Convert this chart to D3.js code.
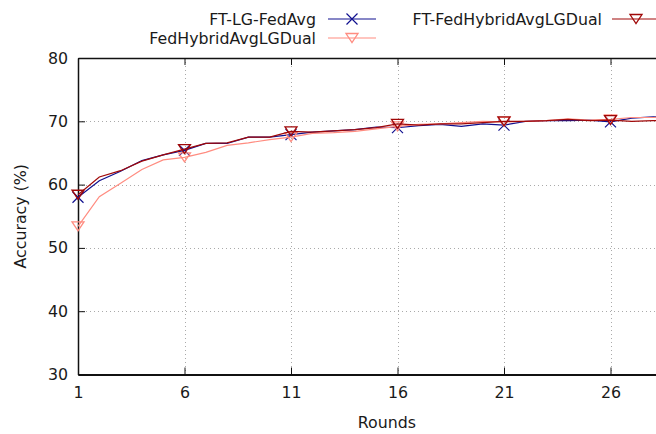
<!DOCTYPE html>
<html>
<head>
<meta charset="utf-8">
<script src="https://cdn.jsdelivr.net/npm/d3@7"></script>
<style>
  html, body { margin: 0; padding: 0; background: #fff; }
  svg { display: block; font-family: "DejaVu Sans", sans-serif; }
</style>
</head>
<body>
<svg id="chart" width="656" height="434"></svg>
<script>
// Accuracy per training round for the three methods
const rounds = d3.range(1, 31);
const ftLgFedAvg = [58.0, 60.6, 62.1, 63.8, 64.7, 65.4, 66.5, 66.5, 67.5, 67.5,
                    67.9, 68.3, 68.5, 68.7, 69.1, 69.0, 69.3, 69.5, 69.2, 69.6,
                    69.4, 70.0, 70.1, 70.1, 70.2, 69.9, 70.5, 70.7, 70.8, 70.9];
const fedHybridAvgLGDual = [53.4, 58.1, 60.2, 62.4, 63.9, 64.3, 65.1, 66.2, 66.6, 67.1,
                            67.5, 68.1, 68.2, 68.4, 68.8, 69.2, 69.5, 69.6, 69.8, 70.0,
                            69.9, 70.0, 70.1, 70.4, 70.2, 70.3, 70.6, 70.6, 70.7, 70.8];
const ftFedHybridAvgLGDual = [58.4, 61.2, 62.2, 63.7, 64.7, 65.6, 66.5, 66.6, 67.5, 67.5,
                              68.4, 68.3, 68.5, 68.7, 69.0, 69.6, 69.4, 69.6, 69.6, 69.8,
                              70.0, 70.0, 70.1, 70.3, 70.1, 70.2, 70.0, 70.1, 70.2, 70.3];
const xTicks = [1, 6, 11, 16, 21, 26];
const yTicks = [30, 40, 50, 60, 70, 80];
const markerRounds = [1, 6, 11, 16, 21, 26];

const series = [
  { name: "FT-LG-FedAvg", values: ftLgFedAvg, color: "#10108f", marker: "cross" },
  { name: "FedHybridAvgLGDual", values: fedHybridAvgLGDual, color: "#ff8c80", marker: "tri" },
  { name: "FT-FedHybridAvgLGDual", values: ftFedHybridAvgLGDual, color: "#a00808", marker: "tri" }
];

const svg = d3.select("#chart");
const plotLeft = 78, plotTop = 58, plotBottom = 374.5;
const plotRight = plotLeft + 29 * 21.3;

const x = d3.scaleLinear().domain([1, 30]).range([plotLeft, plotRight]);
const y = d3.scaleLinear().domain([30, 80]).range([plotBottom, plotTop]);

const fontSize = 15.8;
const textColor = "#1a1a1a";

// dotted grid
const grid = svg.append("g").attr("stroke", "#aaa").attr("stroke-width", 1)
  .attr("stroke-dasharray", "1,3");
yTicks.filter(v => v > 30 && v < 80).forEach(v => {
  grid.append("line").attr("x1", plotLeft).attr("x2", plotRight)
    .attr("y1", Math.round(y(v)) + 0.5).attr("y2", Math.round(y(v)) + 0.5);
});
xTicks.filter(v => v > 1).forEach(v => {
  grid.append("line").attr("y1", plotTop).attr("y2", plotBottom)
    .attr("x1", Math.round(x(v)) + 0.5).attr("x2", Math.round(x(v)) + 0.5);
});

// axes with inward ticks
const xAxis = d3.axisBottom(x).tickValues(xTicks).tickSize(-7).tickPadding(12).tickSizeOuter(0);
const gx = svg.append("g").attr("transform", `translate(0,${plotBottom})`).call(xAxis);
const xTop = d3.axisTop(x).tickValues(xTicks).tickSize(-7).tickFormat("").tickSizeOuter(0);
const gxt = svg.append("g").attr("transform", `translate(0,${plotTop})`).call(xTop);
const yAxis = d3.axisLeft(y).tickValues(yTicks).tickSize(-7).tickPadding(10).tickSizeOuter(0);
const gy = svg.append("g").attr("transform", `translate(${plotLeft},0)`).call(yAxis);

[gx, gxt, gy].forEach(g => {
  g.select(".domain").attr("stroke", "#111").attr("stroke-width", 1.5);
  g.selectAll(".tick line").attr("stroke", "#111").attr("stroke-width", 1);
  g.selectAll("text").attr("font-size", fontSize).attr("fill", textColor)
    .attr("font-family", "DejaVu Sans, sans-serif");
});
gx.select(".domain").attr("stroke-width", 2);

// axis titles
svg.append("text").attr("x", (plotLeft + plotRight) / 2).attr("y", 428)
  .attr("text-anchor", "middle").attr("font-size", fontSize).attr("fill", textColor)
  .text("Rounds");
svg.append("text").attr("transform", `translate(26,${(plotTop + plotBottom) / 2}) rotate(-90)`)
  .attr("text-anchor", "middle").attr("font-size", fontSize).attr("fill", textColor)
  .text("Accuracy (%)");

function drawMarker(g, kind, cx, cy, color) {
  if (kind === "cross") {
    const s = 5.5;
    g.append("path").attr("d", `M${cx - s},${cy - s}L${cx + s},${cy + s}M${cx - s},${cy + s}L${cx + s},${cy - s}`)
      .attr("stroke", color).attr("stroke-width", 1.2).attr("fill", "none");
  } else {
    const w = 6, h = 4.5;
    g.append("path").attr("d", `M${cx - w},${cy - h}L${cx + w},${cy - h}L${cx},${cy + h}Z`)
      .attr("stroke", color).attr("stroke-width", 1.3).attr("fill", "none");
  }
}

const line = d3.line().x((d, i) => x(rounds[i])).y(d => y(d));
const plot = svg.append("g");
series.forEach(s => {
  plot.append("path").datum(s.values).attr("d", line)
    .attr("fill", "none").attr("stroke", s.color).attr("stroke-width", 1.2);
  markerRounds.forEach(r => {
    drawMarker(plot, s.marker, x(r), y(s.values[r - 1]), s.color);
  });
});

// legend (two columns, filled top-to-bottom)
const legendCols = [
  { textRight: 316, sample: 328 },
  { textRight: 602, sample: 612 }
];
const legendRows = [19, 38];
const legendPos = [[0, 0], [0, 1], [1, 0]];
series.forEach((s, i) => {
  const [c, r] = legendPos[i];
  const col = legendCols[c], yy = legendRows[r];
  svg.append("text").attr("x", col.textRight).attr("y", yy)
    .attr("dy", "0.35em").attr("text-anchor", "end")
    .attr("font-size", fontSize).attr("fill", textColor).text(s.name);
  svg.append("line").attr("x1", col.sample).attr("x2", col.sample + 48)
    .attr("y1", yy).attr("y2", yy).attr("stroke", s.color).attr("stroke-width", 1.2);
  drawMarker(svg, s.marker, col.sample + 24, yy, s.color);
});
</script>
</body>
</html>
